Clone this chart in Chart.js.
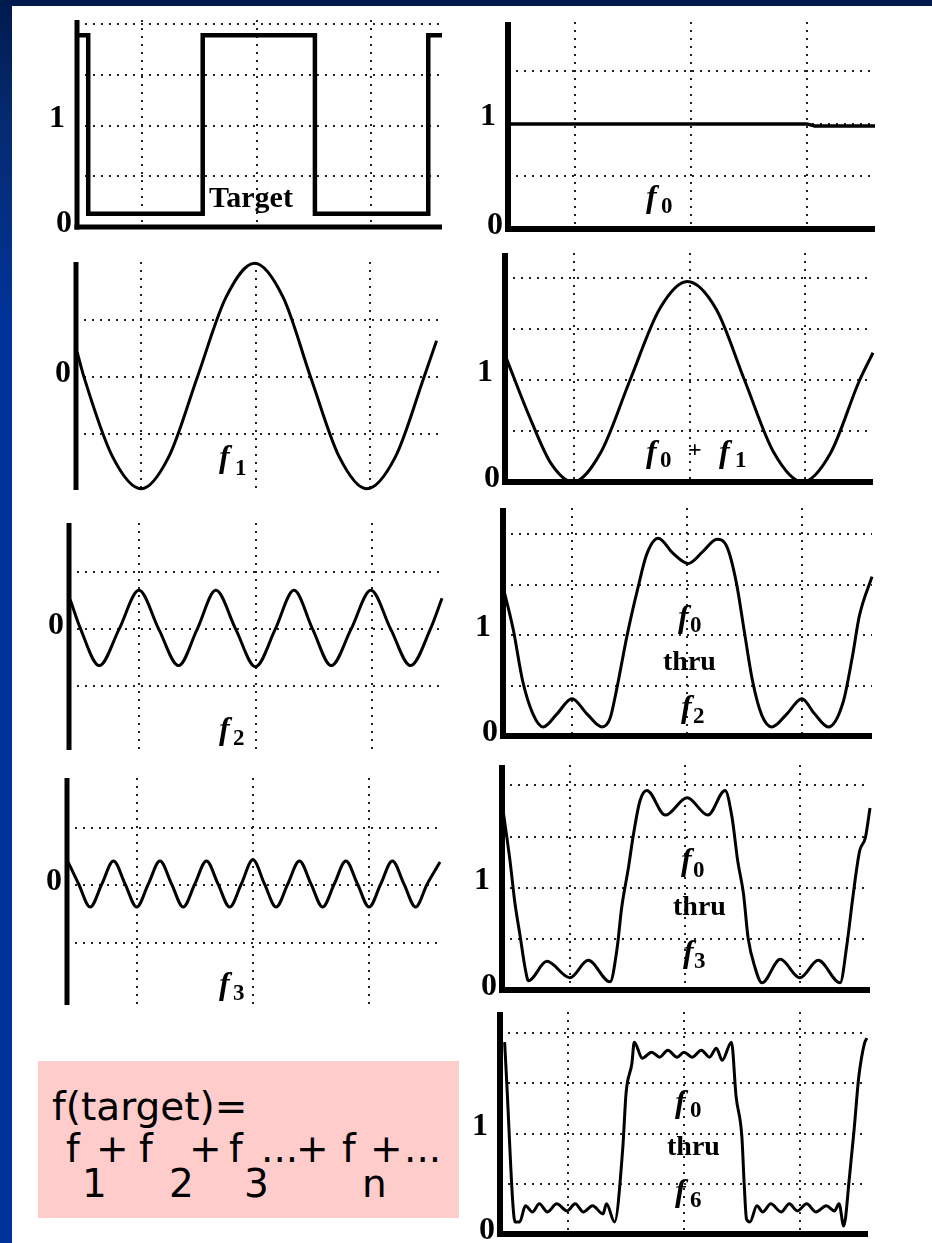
<!DOCTYPE html>
<html>
<head>
<meta charset="utf-8">
<script src="https://cdn.jsdelivr.net/npm/chart.js@4.4.0/dist/chart.umd.min.js"></script>
<style>
  html, body { margin: 0; padding: 0; }
  body {
    width: 932px; height: 1243px; overflow: hidden; position: relative;
    background: linear-gradient(to bottom, #001a4d 0px, #062a70 120px, #003399 320px, #003399 1243px);
  }
  #sheet { position: absolute; left: 12px; top: 6px; width: 920px; height: 1237px; background: #fff; }
  canvas { position: absolute; }
  #formula { position: absolute; left: 38px; top: 1061px; width: 421px; height: 157px; background: #ffcccc; }
  .ft { position: absolute; font-family: "DejaVu Sans", sans-serif; font-size: 39px; line-height: 40px; color: #000; white-space: pre; }
</style>
</head>
<body>
<div id="sheet"></div>
<div id="formula"></div>
<span class="ft" style="left:52px;top:1087px">f(target)=</span>
<span class="ft" style="left:66px;top:1129px">f</span>
<span class="ft" style="left:82px;top:1164px">1</span>
<span class="ft" style="left:96px;top:1129px">+</span>
<span class="ft" style="left:139px;top:1129px">f</span>
<span class="ft" style="left:169px;top:1164px">2</span>
<span class="ft" style="left:189px;top:1129px">+</span>
<span class="ft" style="left:229px;top:1129px">f</span>
<span class="ft" style="left:244px;top:1164px">3</span>
<span class="ft" style="left:261px;top:1129px">...</span>
<span class="ft" style="left:296px;top:1129px">+</span>
<span class="ft" style="left:342px;top:1129px">f</span>
<span class="ft" style="left:362px;top:1164px">n</span>
<span class="ft" style="left:370px;top:1129px">+</span>
<span class="ft" style="left:404px;top:1129px">...</span>

<script>
// x is measured in half-periods of the target wave, the dotted verticals sit at 1, 2, 3
const GRID_X = [1, 2, 3];
const GRID_LEVEL = [0.5, 1, 1.5, 2];
const GRID_ZERO = [-0.5, 0, 0.5];
const TICKS_LEVEL = [1, 0];
const TICKS_ZERO = [0];

// --- series ---
const targetX = [0.44, 0.53, 0.53, 1.53, 1.53, 2.51, 2.51, 3.50, 3.50, 3.62];
const targetY = [1.89, 1.89, 0.13, 0.13, 1.89, 1.89, 0.13, 0.13, 1.89, 1.89];

const f0X = [0.42, 3.00, 3.07, 3.59];
const f0Y = [1.00, 1.00, 0.98, 0.98];

const f1X = [0.44, 0.50, 0.75, 1.00, 1.24, 1.49, 1.74, 1.99, 2.24, 2.48, 2.73, 2.97, 3.22, 3.47, 3.58];
const f1Y = [0.22, 0.00, -0.70, -0.98, -0.70, 0.00, 0.70, 1.00, 0.70, 0.00, -0.70, -0.98, -0.70, 0.00, 0.32];

const f01X = [0.41, 0.62, 0.80, 0.99, 1.23, 1.48, 1.74, 1.98, 2.23, 2.48, 2.73, 2.98, 3.22, 3.47, 3.59];
const f01Y = [1.22, 0.62, 0.18, 0.00, 0.29, 0.99, 1.70, 1.97, 1.70, 0.99, 0.29, 0.00, 0.28, 0.99, 1.27];

const f2X = [0.41, 0.50, 0.66, 0.83, 1.00, 1.17, 1.34, 1.50, 1.66, 1.83, 2.00, 2.17, 2.33, 2.49, 2.65, 2.82, 2.99, 3.16, 3.33, 3.50, 3.60];
const f2Y = [0.26, 0.00, -0.32, 0.00, 0.34, 0.00, -0.32, 0.00, 0.34, 0.00, -0.33, 0.00, 0.34, 0.00, -0.32, 0.00, 0.34, 0.00, -0.32, 0.00, 0.27];

const f02X = [0.40, 0.49, 0.57, 0.66, 0.75, 0.87, 1.00, 1.13, 1.26, 1.33, 1.39, 1.48, 1.57, 1.65, 1.75, 1.88, 2.01, 2.14, 2.26, 2.35, 2.43, 2.50, 2.57, 2.65, 2.74, 2.87, 3.00, 3.11, 3.23, 3.36, 3.44, 3.50, 3.61];
const f02Y = [1.48, 1.05, 0.55, 0.22, 0.09, 0.22, 0.37, 0.22, 0.09, 0.17, 0.47, 1.00, 1.45, 1.80, 1.96, 1.81, 1.71, 1.83, 1.95, 1.87, 1.52, 1.03, 0.55, 0.21, 0.09, 0.22, 0.37, 0.22, 0.09, 0.34, 0.79, 1.19, 1.58];

const f3X = [0.41, 0.50, 0.60, 0.70, 0.80, 0.90, 1.00, 1.10, 1.20, 1.30, 1.40, 1.50, 1.60, 1.70, 1.80, 1.90, 2.00, 2.10, 2.20, 2.30, 2.40, 2.50, 2.60, 2.70, 2.80, 2.90, 3.00, 3.10, 3.20, 3.30, 3.40, 3.50, 3.61];
const f3Y = [0.20, 0.01, -0.19, 0.01, 0.21, 0.01, -0.19, 0.01, 0.21, 0.01, -0.19, 0.01, 0.21, 0.01, -0.19, 0.01, 0.22, 0.01, -0.19, 0.01, 0.21, 0.01, -0.19, 0.01, 0.21, 0.01, -0.19, 0.01, 0.21, 0.01, -0.19, 0.01, 0.20];

const f03X = [0.42, 0.48, 0.52, 0.57, 0.61, 0.64, 0.80, 1.00, 1.16, 1.35, 1.41, 1.45, 1.51, 1.55, 1.61, 1.67, 1.83, 2.02, 2.20, 2.35, 2.41, 2.46, 2.51, 2.55, 2.61, 2.67, 2.83, 3.00, 3.16, 3.35, 3.41, 3.46, 3.52, 3.57, 3.61];
const f03Y = [1.75, 1.26, 0.87, 0.51, 0.22, 0.09, 0.28, 0.12, 0.29, 0.08, 0.40, 0.80, 1.20, 1.50, 1.85, 1.95, 1.71, 1.88, 1.71, 1.95, 1.69, 1.26, 0.94, 0.51, 0.22, 0.07, 0.30, 0.12, 0.29, 0.07, 0.45, 0.90, 1.36, 1.49, 1.78];

const f06X = [0.45, 0.47, 0.52, 0.54, 0.58, 0.63, 0.69, 0.75, 0.82, 0.90, 0.99, 1.06, 1.13, 1.21, 1.30, 1.33, 1.40, 1.47, 1.50, 1.55, 1.57, 1.64, 1.72, 1.79, 1.86, 1.94, 2.00, 2.07, 2.15, 2.22, 2.28, 2.33, 2.41, 2.45, 2.50, 2.52, 2.54, 2.57, 2.63, 2.68, 2.75, 2.84, 2.91, 2.98, 3.06, 3.14, 3.23, 3.30, 3.34, 3.38, 3.43, 3.47, 3.51, 3.56, 3.58];
const f06Y = [1.91, 1.47, 0.32, 0.12, 0.12, 0.28, 0.22, 0.30, 0.22, 0.30, 0.23, 0.30, 0.22, 0.28, 0.20, 0.30, 0.12, 0.84, 1.41, 1.70, 1.91, 1.75, 1.81, 1.76, 1.83, 1.76, 1.81, 1.76, 1.83, 1.76, 1.85, 1.73, 1.91, 1.37, 0.97, 0.50, 0.15, 0.12, 0.28, 0.22, 0.30, 0.22, 0.30, 0.23, 0.30, 0.22, 0.28, 0.23, 0.30, 0.08, 0.57, 1.04, 1.56, 1.90, 1.95];

// room around each plot area for the tick labels and thick axes
const PAD = { left: 50, right: 8, top: 6, bottom: 8 };
const SERIF = '"Liberation Serif", "Times New Roman", serif';

const fLabel = (sub, x, y, sx, sy) => ({ sub, x, y, sx, sy });
const word = (text, x, y) => ({ text, x, y });

// area = [left, top, right, bottom] of the plot on the page
const panels = [
  { area: [77, 20, 442, 227], x: [0.432, 3.62], y: [0, 2.04], gridY: GRID_LEVEL, ticks: TICKS_LEVEL, base: true,
    xs: targetX, ys: targetY, lw: 4.5, smooth: false, axisW: 5, notes: [word('Target', 209, 207)] },
  { area: [508, 22, 875, 229], x: [0.42, 3.59], y: [0, 1.97], gridY: [0.5, 1, 1.5], ticks: TICKS_LEVEL, base: true,
    xs: f0X, ys: f0Y, lw: 3.5, smooth: false, axisW: 6, notes: [fLabel('0', 646, 207, 661, 213)] },
  { area: [76, 262, 440, 490], x: [0.43, 3.61], y: [-0.99, 1.01], gridY: GRID_ZERO, ticks: TICKS_ZERO, base: false,
    xs: f1X, ys: f1Y, lw: 3, smooth: true, axisW: 5, notes: [fLabel('1', 219, 467, 235, 475)] },
  { area: [505, 253, 873, 482], x: [0.40, 3.59], y: [0, 2.25], gridY: GRID_LEVEL, ticks: TICKS_LEVEL, base: true,
    xs: f01X, ys: f01Y, lw: 3, smooth: true, axisW: 6,
    notes: [fLabel('0', 646, 462, 660, 467), word('+', 688, 457), fLabel('1', 719, 462, 735, 467)] },
  { area: [69, 523, 442, 750], x: [0.40, 3.60], y: [-1.06, 0.93], gridY: GRID_ZERO, ticks: TICKS_ZERO, base: false,
    xs: f2X, ys: f2Y, lw: 3, smooth: true, axisW: 5, notes: [fLabel('2', 219, 739, 233, 745)] },
  { area: [503, 508, 872, 736], x: [0.40, 3.61], y: [0, 2.26], gridY: GRID_LEVEL, ticks: TICKS_LEVEL, base: true,
    xs: f02X, ys: f02Y, lw: 3, smooth: true, axisW: 6,
    notes: [fLabel('0', 678, 627, 690, 632), word('thru', 663, 670), fLabel('2', 681, 717, 693, 723)] },
  { area: [67, 778, 440, 1005], x: [0.40, 3.61], y: [-1.04, 0.93], gridY: GRID_ZERO, ticks: TICKS_ZERO, base: false,
    xs: f3X, ys: f3Y, lw: 3, smooth: true, axisW: 5, notes: [fLabel('3', 219, 994, 233, 1000)] },
  { area: [502, 765, 870, 990], x: [0.41, 3.61], y: [0, 2.2], gridY: GRID_LEVEL, ticks: TICKS_LEVEL, base: true,
    xs: f03X, ys: f03Y, lw: 3, smooth: true, axisW: 6,
    notes: [fLabel('0', 681, 870, 693, 877), word('thru', 673, 915), fLabel('3', 683, 962, 694, 968)] },
  { area: [500, 1012, 868, 1234], x: [0.41, 3.59], y: [0, 2.21], gridY: GRID_LEVEL, ticks: TICKS_LEVEL, base: true,
    xs: f06X, ys: f06Y, lw: 3, smooth: true, axisW: 6,
    notes: [fLabel('0', 675, 1112, 690, 1117), word('thru', 667, 1155), fLabel('6', 675, 1201, 690, 1207)] }
];

// thick L-shaped axes, the 0/1 labels and the captions
const sketchPlugin = {
  id: 'sketch',
  beforeDatasetsDraw(chart, args, opts) {
    const { ctx, chartArea: a, scales: { y } } = chart;
    const y0 = y.getPixelForValue(0);
    ctx.save();
    ctx.strokeStyle = '#000';
    ctx.lineWidth = opts.axisW;
    ctx.beginPath();
    ctx.moveTo(a.left, a.top);
    ctx.lineTo(a.left, opts.base ? y0 + opts.axisW / 2 : a.bottom);
    ctx.stroke();
    if (opts.base) {
      ctx.beginPath();
      ctx.moveTo(a.left - opts.axisW / 2, y0);
      ctx.lineTo(a.right, y0);
      ctx.stroke();
    }
    ctx.restore();
  },
  afterDatasetsDraw(chart, args, opts) {
    const { ctx, chartArea: a, scales: { y } } = chart;
    ctx.save();
    ctx.fillStyle = '#000';
    ctx.font = 'bold 32px ' + SERIF;
    ctx.textAlign = 'right';
    ctx.textBaseline = 'middle';
    opts.ticks.forEach(v => {
      const gap = v === 0 ? 5 : 12;
      const dy = v === 0 ? -3 : -7;
      ctx.fillText(String(v), a.left - gap, y.getPixelForValue(v) + dy);
    });

    // captions are placed in page coordinates
    ctx.translate(-opts.ox, -opts.oy);
    ctx.textAlign = 'left';
    ctx.textBaseline = 'alphabetic';
    opts.notes.forEach(n => {
      if (n.text) {
        ctx.font = (n.text === '+' ? 'bold 24px ' : n.text === 'thru' ? 'bold 28px ' : 'bold 30px ') + SERIF;
        ctx.fillText(n.text, n.x, n.y);
      } else {
        ctx.font = 'italic bold 32px ' + SERIF;
        ctx.fillText('f', n.x, n.y);
        ctx.font = 'bold 23px ' + SERIF;
        ctx.fillText(n.sub, n.sx, n.sy);
      }
    });
    ctx.restore();
  }
};

function gridAxis(range, ticks) {
  return {
    type: 'linear',
    min: range[0],
    max: range[1],
    afterBuildTicks: scale => { scale.ticks = ticks.map(v => ({ value: v })); },
    ticks: { display: false },
    grid: { color: '#222', lineWidth: 2, drawTicks: false },
    border: { display: false, dash: [2, 6] }
  };
}

panels.forEach(p => {
  const [l, t, r, b] = p.area;
  const w = r - l + PAD.left + PAD.right;
  const h = b - t + PAD.top + PAD.bottom;
  const ox = l - PAD.left, oy = t - PAD.top;
  const canvas = document.createElement('canvas');
  canvas.width = w;
  canvas.height = h;
  canvas.style.left = ox + 'px';
  canvas.style.top = oy + 'px';
  canvas.style.width = w + 'px';
  canvas.style.height = h + 'px';
  document.body.appendChild(canvas);

  new Chart(canvas, {
    type: 'line',
    data: {
      datasets: [{
        data: p.xs.map((v, i) => ({ x: v, y: p.ys[i] })),
        borderColor: '#000',
        borderWidth: p.lw,
        borderJoinStyle: p.smooth ? 'round' : 'miter',
        pointRadius: 0,
        tension: 0,
        cubicInterpolationMode: p.smooth ? 'monotone' : 'default',
        fill: false,
        clip: false
      }]
    },
    options: {
      responsive: false,
      animation: false,
      events: [],
      layout: { padding: PAD, autoPadding: false },
      plugins: {
        legend: { display: false },
        tooltip: { enabled: false },
        sketch: { axisW: p.axisW, base: p.base, ticks: p.ticks, notes: p.notes, ox: ox, oy: oy }
      },
      scales: {
        x: gridAxis(p.x, GRID_X),
        y: gridAxis(p.y, p.gridY)
      }
    },
    plugins: [sketchPlugin]
  });
});
</script>
</body>
</html>
